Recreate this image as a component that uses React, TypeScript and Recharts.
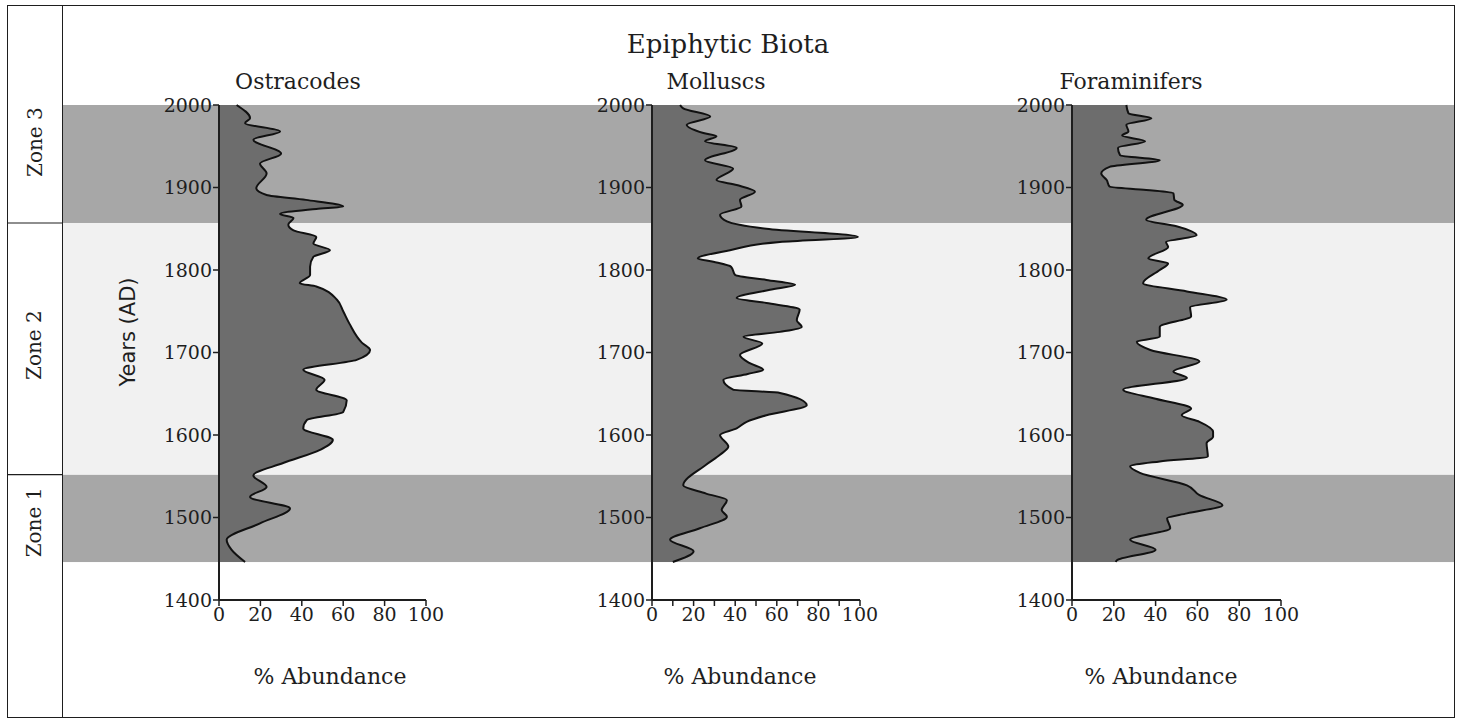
import React from "react";
import { AreaChart, Area, XAxis, YAxis, ReferenceArea, ReferenceLine } from "recharts";

// years, top (2000) to bottom (1446)
const ostracodeYears = [2000, 1984, 1978, 1968, 1958, 1941, 1929, 1917, 1899, 1891, 1885, 1877, 1874, 1868, 1863, 1855, 1848, 1840, 1832, 1824, 1816, 1804, 1794, 1784, 1780, 1764, 1750, 1735, 1712, 1703, 1691, 1679, 1667, 1655, 1642, 1628, 1618, 1608, 1594, 1582, 1566, 1551, 1537, 1525, 1511, 1493, 1473, 1461, 1446];
const ostracodeValues = [8.5, 15, 12.6, 29.5, 16.6, 30, 19.8, 23, 18, 23, 42, 60, 47, 29.5, 36, 33.5, 36, 47, 45.6, 53.6, 45.6, 44, 44, 39, 47, 57, 60, 63, 69, 73, 66.5, 40.7, 51, 47, 61.7, 60, 42.4, 40.7, 55, 48.8, 31, 16.6, 23, 15, 34.3, 19.8, 3.7, 6, 12.6];

const molluscYears = [2000, 1996, 1986, 1976, 1966, 1962, 1956, 1948, 1933, 1923, 1909, 1903, 1895, 1885, 1877, 1867, 1859, 1850, 1840, 1834, 1824, 1814, 1810, 1804, 1794, 1788, 1782, 1776, 1766, 1760, 1752, 1739, 1731, 1725, 1719, 1711, 1697, 1687, 1679, 1674, 1667, 1655, 1651, 1636, 1624, 1616, 1608, 1600, 1586, 1576, 1564, 1539, 1529, 1521, 1509, 1501, 1487, 1473, 1459, 1446];
const molluscValues = [13.5, 15, 28, 16.7, 24.7, 31, 25.5, 40.7, 25.5, 39, 31, 40.7, 49.5, 42.3, 43, 32.7, 36, 55, 99, 61.5, 37.5, 22, 29.5, 38, 40, 55, 68.8, 56.7, 40.7, 55, 71, 69.6, 72, 61.5, 44, 53, 42.3, 47, 53.5, 46, 34.3, 39, 61.5, 74.4, 55, 45.5, 40.7, 32.7, 36.7, 32.7, 26, 15, 26, 36, 33.5, 36, 23, 8.7, 20, 10];

const foramYears = [2000, 1990, 1984, 1976, 1968, 1963, 1956, 1948, 1939, 1933, 1925, 1917, 1909, 1901, 1897, 1893, 1885, 1879, 1861, 1853, 1842, 1834, 1828, 1814, 1808, 1800, 1784, 1774, 1764, 1755, 1744, 1731, 1719, 1713, 1703, 1689, 1677, 1669, 1655, 1644, 1632, 1624, 1616, 1604, 1598, 1590, 1574, 1568, 1562, 1554, 1539, 1527, 1515, 1505, 1499, 1487, 1473, 1461, 1448, 1446];
const foramValues = [26, 27, 38, 26, 27, 24, 35, 22, 23, 42, 18, 14, 16.6, 18, 35.5, 48.5, 49, 53, 35.5, 50, 59.6, 45, 46, 36.5, 46, 42, 34, 55, 74, 56.5, 57, 42, 42, 31, 37.5, 61, 48.5, 55, 24.5, 40, 57, 52.5, 61, 67.5, 67.5, 64.4, 65, 42, 27.8, 32.5, 55, 61, 72, 55, 45.5, 47, 27.8, 40, 21.4, 21];

const zoneNames = ["Zone 1", "Zone 2", "Zone 3"];
const zoneStart = [1446, 1552, 1857];
const zoneEnd = [1552, 1857, 2000];
const zoneLabelYears = [1494, 1709, 1955];

const yearTicks = [1400, 1500, 1600, 1700, 1800, 1900, 2000];
const ticksBy20 = [0, 20, 40, 60, 80, 100];
const ticksBy10 = [0, 10, 20, 30, 40, 50, 60, 70, 80, 90, 100];

const panelTitles = ["Ostracodes", "Molluscs", "Foraminifers"];

const SERIF = "'DejaVu Serif', 'Liberation Serif', serif";
const SANS = "'DejaVu Sans', 'Liberation Sans', sans-serif";
const INK = "#1e1e1e";
const BAND = "#a7a7a7";
const MID = "#f1f1f1";
const FILL = "#6d6d6d";

const toRows = (years: number[], values: number[]) =>
  years.map((year, i) => ({ year, value: values[i] }));

type PanelProps = {
  years: number[];
  values: number[];
  left: number;
  width: number;
  marginLeft: number;
  marginRight: number;
  xTicks: number[];
  bandFrom: number;
  zoneColumn?: boolean;
};

const H = 723;

const Panel = ({ years, values, left, width, marginLeft, marginRight, xTicks, bandFrom, zoneColumn }: PanelProps) => {
  const data = toRows(years, values);
  return (
    <div style={{ position: "absolute", left, top: 0 }}>
      <AreaChart
        layout="vertical"
        width={width}
        height={H}
        data={data}
        margin={{ top: 105, right: marginRight, left: marginLeft, bottom: 93 }}
      >
        {zoneNames.map((name, i) => (
          <ReferenceArea
            key={name}
            y1={zoneStart[i]}
            y2={zoneEnd[i]}
            ifOverflow="visible"
            shape={(p: any) => (
              <g>
                <rect x={bandFrom} y={p.y} width={width - bandFrom} height={p.height} fill={i === 1 ? MID : BAND} />
                {zoneColumn && i > 0 && (
                  <line x1={0} x2={bandFrom} y1={p.y + p.height} y2={p.y + p.height} stroke={INK} strokeWidth={1.2} />
                )}
              </g>
            )}
          />
        ))}
        {zoneColumn &&
          zoneNames.map((name, i) => (
            <ReferenceLine
              key={"lbl" + name}
              y={zoneLabelYears[i]}
              ifOverflow="visible"
              shape={(p: any) => (
                <text
                  x={bandFrom / 2}
                  y={p.y1}
                  transform={`rotate(-90 ${bandFrom / 2} ${p.y1})`}
                  textAnchor="middle"
                  dominantBaseline="central"
                  fontFamily={SERIF}
                  fontSize={20}
                  fill={INK}
                >
                  {name}
                </text>
              )}
            />
          ))}
        <XAxis
          type="number"
          domain={[0, 100]}
          ticks={xTicks}
          interval={0}
          height={30}
          tickFormatter={(v: number) => (v % 20 === 0 ? String(v) : "")}
          axisLine={{ stroke: INK, strokeWidth: 2 }}
          tickLine={{ stroke: INK, strokeWidth: 1.5 }}
          tickSize={6}
          tick={{ fill: INK, fontSize: 19, fontFamily: SERIF }}
        />
        <YAxis
          type="number"
          dataKey="year"
          domain={[1400, 2000]}
          reversed
          ticks={yearTicks}
          interval={0}
          width={60}
          axisLine={{ stroke: INK, strokeWidth: 2 }}
          tickLine={{ stroke: INK, strokeWidth: 1.5 }}
          tickSize={6}
          tickMargin={1}
          tick={{ fill: INK, fontSize: 19, fontFamily: SERIF }}
        />
        <Area
          type="monotone"
          dataKey="value"
          stroke="#111"
          strokeWidth={2}
          fill={FILL}
          fillOpacity={1}
          isAnimationActive={false}
        />
      </AreaChart>
    </div>
  );
};

const textAt = (x: number, y: number, size: number, family = SERIF): React.CSSProperties => ({
  position: "absolute",
  left: x,
  top: y,
  transform: "translate(-50%, -50%)",
  fontFamily: family,
  fontSize: size,
  color: INK,
  whiteSpace: "nowrap",
  lineHeight: 1,
});

const App = () => {
  return (
    <div style={{ position: "relative", width: 1461, height: H, background: "#fff", overflow: "hidden" }}>
      <style>{"body{margin:0}"}</style>
      <Panel years={ostracodeYears} values={ostracodeValues} left={7} width={483} marginLeft={152} marginRight={64} xTicks={ticksBy20} bandFrom={55} zoneColumn />
      <Panel years={molluscYears} values={molluscValues} left={490} width={420} marginLeft={102} marginRight={50} xTicks={ticksBy10} bandFrom={0} />
      <Panel years={foramYears} values={foramValues} left={910} width={545} marginLeft={102} marginRight={174} xTicks={ticksBy20} bandFrom={0} />

      {/* frame and zone column */}
      <div style={{ position: "absolute", left: 7, top: 5, width: 1448, height: 713, border: `1.5px solid ${INK}`, boxSizing: "border-box", pointerEvents: "none" }} />
      <div style={{ position: "absolute", left: 62, top: 5, width: 0, height: 713, borderLeft: `1.5px solid ${INK}` }} />

      <div style={textAt(728, 44, 26)}>Epiphytic Biota</div>
      <div style={textAt(298, 82, 22)}>{panelTitles[0]}</div>
      <div style={textAt(716, 82, 22)}>{panelTitles[1]}</div>
      <div style={textAt(1131, 82, 22)}>{panelTitles[2]}</div>
      <div style={textAt(330, 677, 22)}>% Abundance</div>
      <div style={textAt(740, 677, 22)}>% Abundance</div>
      <div style={textAt(1161, 677, 22)}>% Abundance</div>
      <div style={{ ...textAt(128, 332, 21, SANS), transform: "translate(-50%, -50%) rotate(-90deg)" }}>Years (AD)</div>
    </div>
  );
};

export default App;
